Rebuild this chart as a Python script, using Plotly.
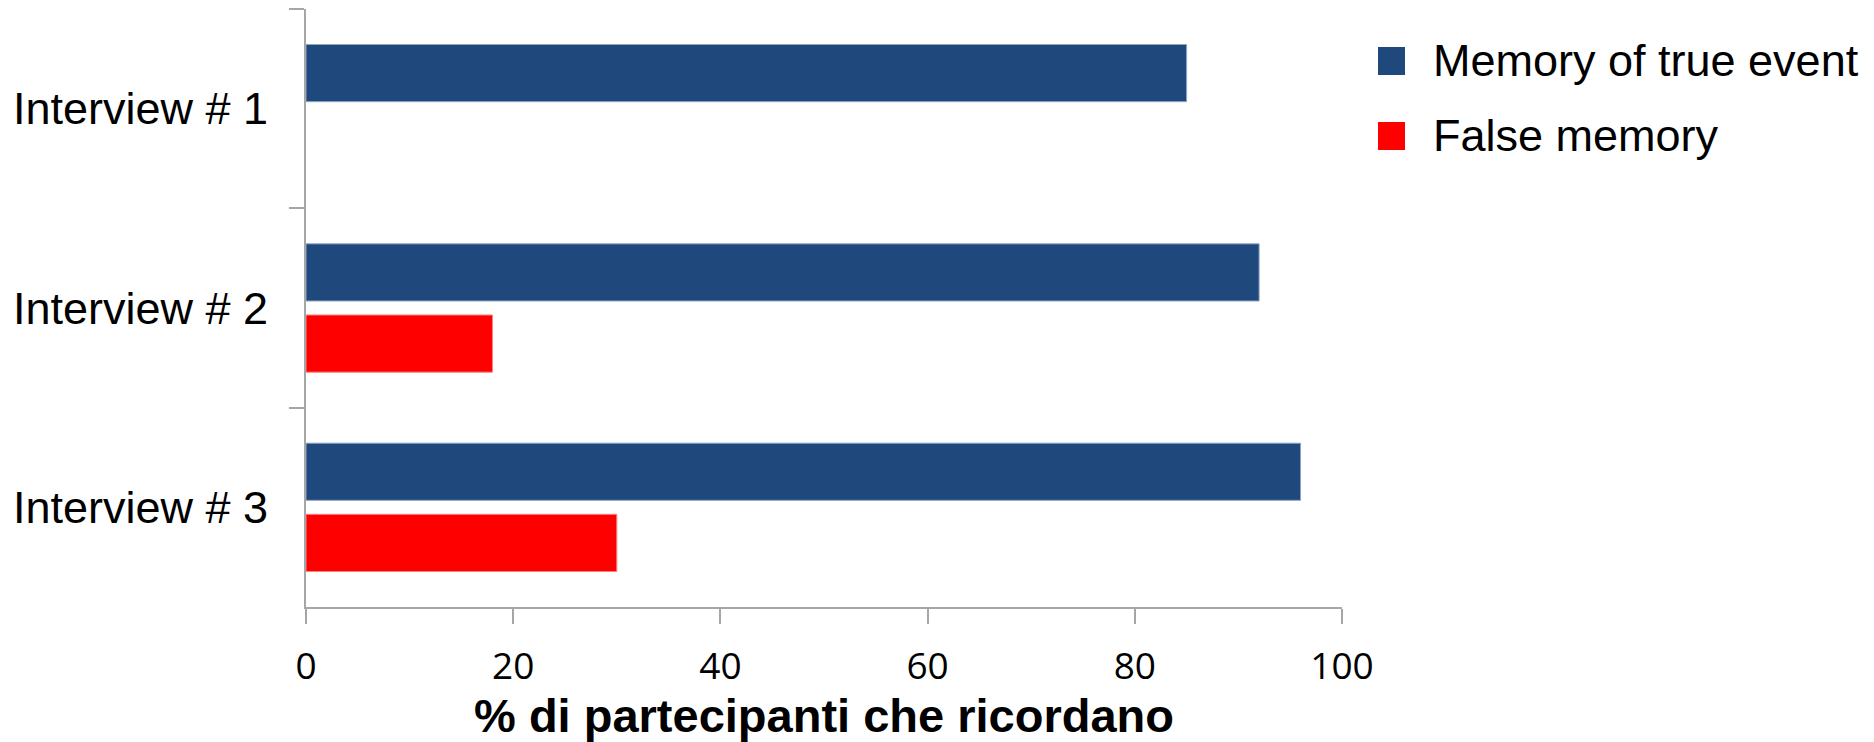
import plotly.graph_objects as go

categories = ["Interview # 1", "Interview # 2", "Interview # 3"]
true_event = [85, 92, 96]
false_memory = [None, 18, 30]
series_names = ["Memory of true event", "False memory"]
x_ticks = [0, 20, 40, 60, 80, 100]

BLUE = "#1F497D"
RED = "#FF0000"
AXIS = "#A6A6A6"
FONT = "Liberation Sans, Arial, sans-serif"

W, H = 1874, 742
ML, MR, MT, MB = 306, 532, 9, 135
PW, PH = W - ML - MR, H - MT - MB


def px_x(x):
    return (x - ML) / PW


def px_y(y):
    return 1 - (y - MT) / PH


fig = go.Figure()
fig.add_trace(go.Bar(
    y=categories, x=true_event, orientation="h", name=series_names[0],
    marker=dict(color=BLUE, line=dict(color="#8FA5C4", width=1)),
    showlegend=False,
))
fig.add_trace(go.Bar(
    y=categories, x=false_memory, orientation="h", name=series_names[1],
    marker=dict(color=RED, line=dict(color="#FF8080", width=1)),
    showlegend=False,
))

# Legend drawn as squares + text (Excel-style large keys)
legend_colors = [BLUE, RED]
legend_rows = [(47, 75), (122, 150)]
shapes = []
annotations = []
for name, col, (ya, yb) in zip(series_names, legend_colors, legend_rows):
    shapes.append(dict(type="rect", xref="paper", yref="paper",
                       x0=px_x(1378), x1=px_x(1405), y0=px_y(yb), y1=px_y(ya),
                       fillcolor=col, line=dict(width=0)))
    annotations.append(dict(xref="paper", yref="paper", x=px_x(1431), y=px_y((ya + yb) / 2 - 1),
                            xanchor="left", yanchor="middle", showarrow=False,
                            text=name, font=dict(family=FONT, size=45, color="black")))

fig.update_layout(
    width=W, height=H,
    margin=dict(l=ML, r=MR, t=MT, b=MB),
    paper_bgcolor="white", plot_bgcolor="white",
    barmode="group", bargap=0.286, bargroupgap=0.197,
    showlegend=False,
    shapes=shapes, annotations=annotations,
    font=dict(family=FONT, color="black"),
)

fig.update_xaxes(
    range=[0, 100], tickmode="array", tickvals=x_ticks,
    ticktext=[str(v) for v in x_ticks],
    showgrid=False, zeroline=False,
    showline=True, linecolor=AXIS, linewidth=2,
    ticks="outside", ticklen=15, tickwidth=2, tickcolor=AXIS,
    tickfont=dict(family="Open Sans, sans-serif", size=37, color="black"),
    ticklabelstandoff=11,
    title=dict(text="<b>% di partecipanti che ricordano</b>",
               font=dict(family=FONT, size=47, color="black"),
               standoff=8),
)
fig.update_yaxes(
    autorange="reversed", type="category",
    showgrid=False, zeroline=False,
    showline=True, linecolor=AXIS, linewidth=2,
    ticks="outside", ticklen=15, tickwidth=2, tickcolor=AXIS,
    tickson="boundaries",
    tickfont=dict(family=FONT, size=45, color="black"),
    ticklabelstandoff=27,
)

fig.write_html("out.html")
